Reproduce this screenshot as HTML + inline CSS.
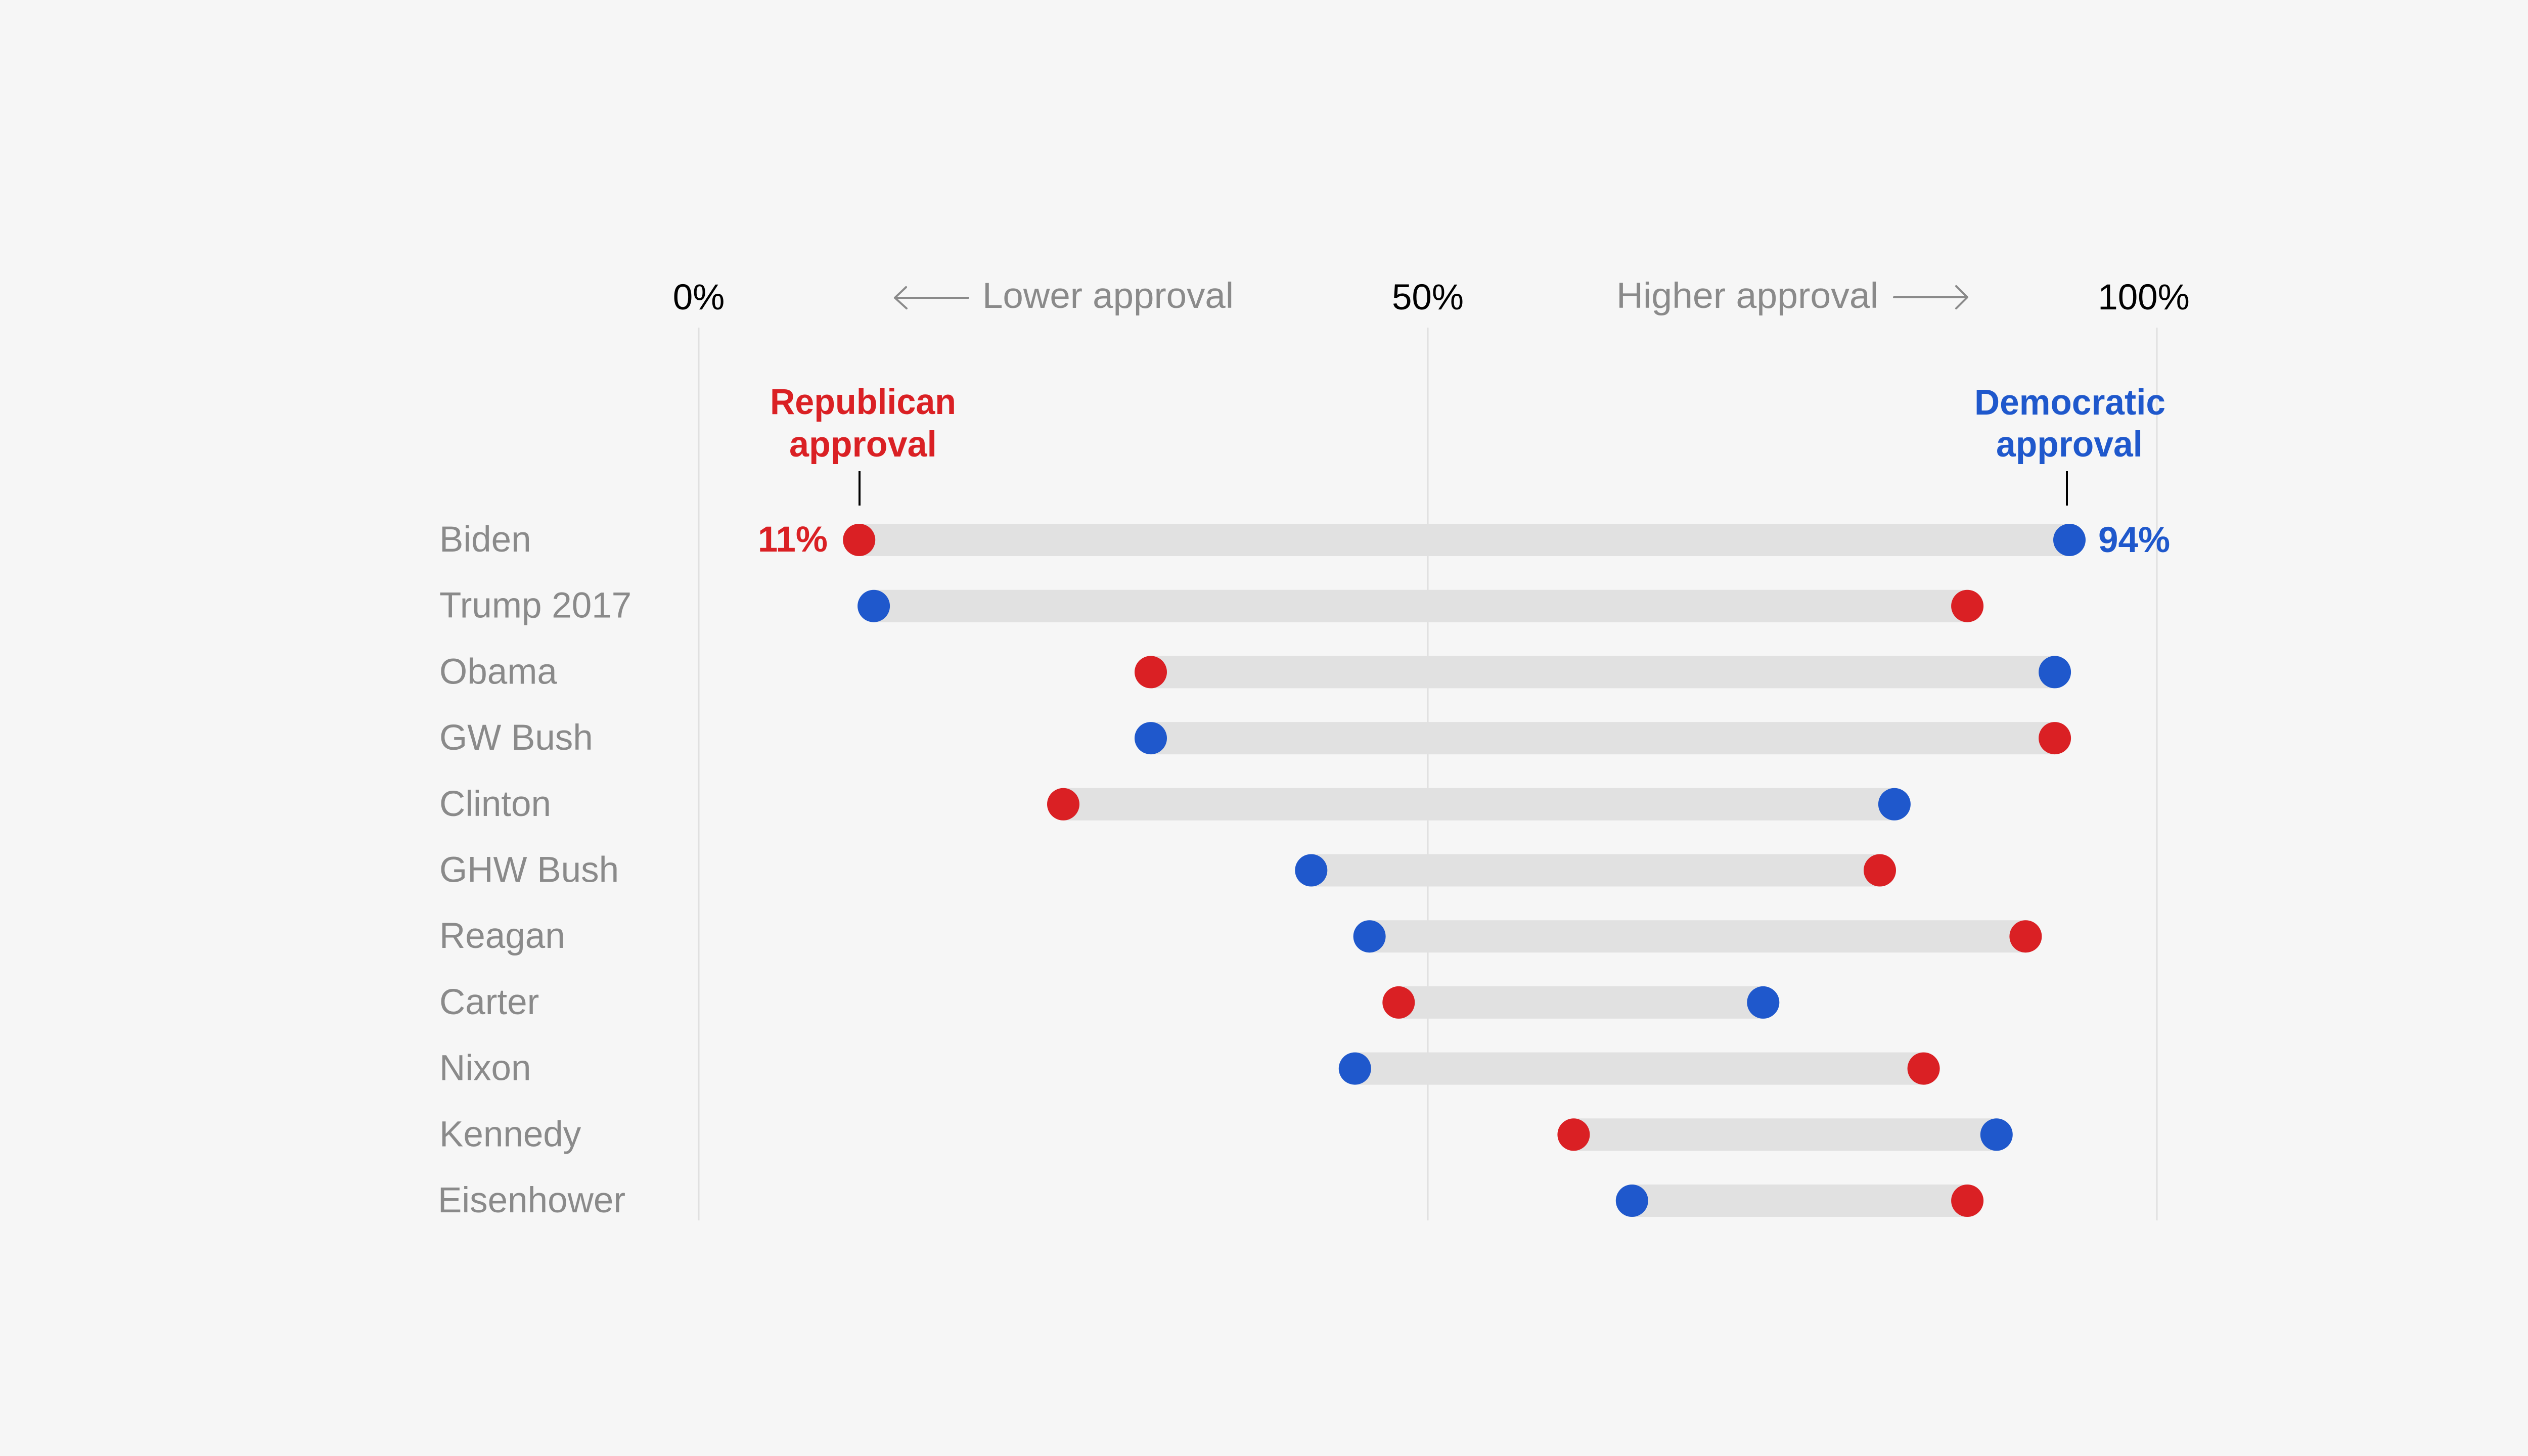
<!DOCTYPE html>
<html>
<head>
<meta charset="utf-8">
<style>
html,body{margin:0;padding:0;background:#f6f6f6;}
body{width:5120px;height:2880px;overflow:hidden;}
svg{display:block;}
text{font-family:"Liberation Sans",Arial,sans-serif;}
</style>
</head>
<body>
<svg width="5120" height="2880" viewBox="0 0 5120 2880" xmlns="http://www.w3.org/2000/svg">
<rect width="5120" height="2880" fill="#f6f6f6"/>

<!-- gridlines -->
<g stroke="#e0e0e0" stroke-width="3">
<line x1="1382" y1="648" x2="1382" y2="2414"/>
<line x1="2824" y1="648" x2="2824" y2="2414"/>
<line x1="4266" y1="648" x2="4266" y2="2414"/>
</g>

<!-- header -->
<g font-size="71">
<text x="1382" y="612" text-anchor="middle" fill="#000">0%</text>
<text x="2824" y="612" text-anchor="middle" fill="#000">50%</text>
<text x="4240" y="612" text-anchor="middle" fill="#000">100%</text>
<text x="1943" y="609" fill="#8a8a8a" textLength="497" lengthAdjust="spacingAndGlyphs">Lower approval</text>
<text x="3197" y="609" fill="#8a8a8a" textLength="518" lengthAdjust="spacingAndGlyphs">Higher approval</text>
</g>
<g stroke="#8a8a8a" stroke-width="4" stroke-linecap="round" stroke-linejoin="round" fill="none">
<line x1="1770" y1="589" x2="1915" y2="589"/>
<polyline points="1792,568 1770,589 1793,610"/>
<line x1="3746" y1="588" x2="3891" y2="588"/>
<polyline points="3869,566 3891,588 3869,610"/>
</g>

<!-- annotations -->
<g font-size="71" font-weight="bold" text-anchor="middle">
<text x="1707" y="819" fill="#da2024" textLength="368" lengthAdjust="spacingAndGlyphs">Republican</text>
<text x="1707" y="903" fill="#da2024" textLength="292" lengthAdjust="spacingAndGlyphs">approval</text>
<text x="4094" y="820" fill="#1f58cc" textLength="378" lengthAdjust="spacingAndGlyphs">Democratic</text>
<text x="4093" y="903" fill="#1f58cc" textLength="290" lengthAdjust="spacingAndGlyphs">approval</text>
</g>
<g stroke="#000" stroke-width="4">
<line x1="1700" y1="932" x2="1700" y2="1000"/>
<line x1="4088" y1="932" x2="4088" y2="1000"/>
</g>
<g font-size="71" font-weight="bold">
<text x="1637" y="1091" text-anchor="end" fill="#da2024">11%</text>
<text x="4150" y="1092" fill="#1f58cc">94%</text>
</g>

<!-- row labels -->
<g font-size="71" fill="#8a8a8a">
<text x="869" y="1091">Biden</text>
<text x="869" y="1221.7">Trump 2017</text>
<text x="869" y="1352.4">Obama</text>
<text x="869" y="1483.1">GW Bush</text>
<text x="869" y="1613.8">Clinton</text>
<text x="869" y="1744.5">GHW Bush</text>
<text x="869" y="1875.2">Reagan</text>
<text x="869" y="2005.9">Carter</text>
<text x="869" y="2136.6">Nixon</text>
<text x="869" y="2267.3">Kennedy</text>
<text x="866" y="2398">Eisenhower</text>
</g>

<!-- bars -->
<g fill="#e1e1e1">
<rect x="1699.2" y="1036" width="2393.8" height="64"/>
<rect x="1728.1" y="1166.7" width="2163" height="64"/>
<rect x="2276" y="1297.4" width="1788.1" height="64"/>
<rect x="2276" y="1428.1" width="1788.1" height="64"/>
<rect x="2103" y="1558.8" width="1643.9" height="64"/>
<rect x="2593.3" y="1689.5" width="1124.7" height="64"/>
<rect x="2708.6" y="1820.2" width="1297.8" height="64"/>
<rect x="2766.3" y="1950.9" width="721" height="64"/>
<rect x="2679.8" y="2081.6" width="1124.8" height="64"/>
<rect x="3112.4" y="2212.3" width="836.4" height="64"/>
<rect x="3227.8" y="2343" width="663.3" height="64"/>
</g>

<!-- dots -->
<g fill="#da2024">
<circle cx="1699.2" cy="1068" r="32"/>
<circle cx="3891.1" cy="1198.7" r="32"/>
<circle cx="2276" cy="1329.4" r="32"/>
<circle cx="4064.1" cy="1460.1" r="32"/>
<circle cx="2103" cy="1590.8" r="32"/>
<circle cx="3718" cy="1721.5" r="32"/>
<circle cx="4006.4" cy="1852.2" r="32"/>
<circle cx="2766.3" cy="1982.9" r="32"/>
<circle cx="3804.6" cy="2113.6" r="32"/>
<circle cx="3112.4" cy="2244.3" r="32"/>
<circle cx="3891.1" cy="2375" r="32"/>
</g>
<g fill="#1f58cc">
<circle cx="4093" cy="1068" r="32"/>
<circle cx="1728.1" cy="1198.7" r="32"/>
<circle cx="4064.1" cy="1329.4" r="32"/>
<circle cx="2276" cy="1460.1" r="32"/>
<circle cx="3746.9" cy="1590.8" r="32"/>
<circle cx="2593.3" cy="1721.5" r="32"/>
<circle cx="2708.6" cy="1852.2" r="32"/>
<circle cx="3487.3" cy="1982.9" r="32"/>
<circle cx="2679.8" cy="2113.6" r="32"/>
<circle cx="3948.8" cy="2244.3" r="32"/>
<circle cx="3227.8" cy="2375" r="32"/>
</g>
</svg>
</body>
</html>
